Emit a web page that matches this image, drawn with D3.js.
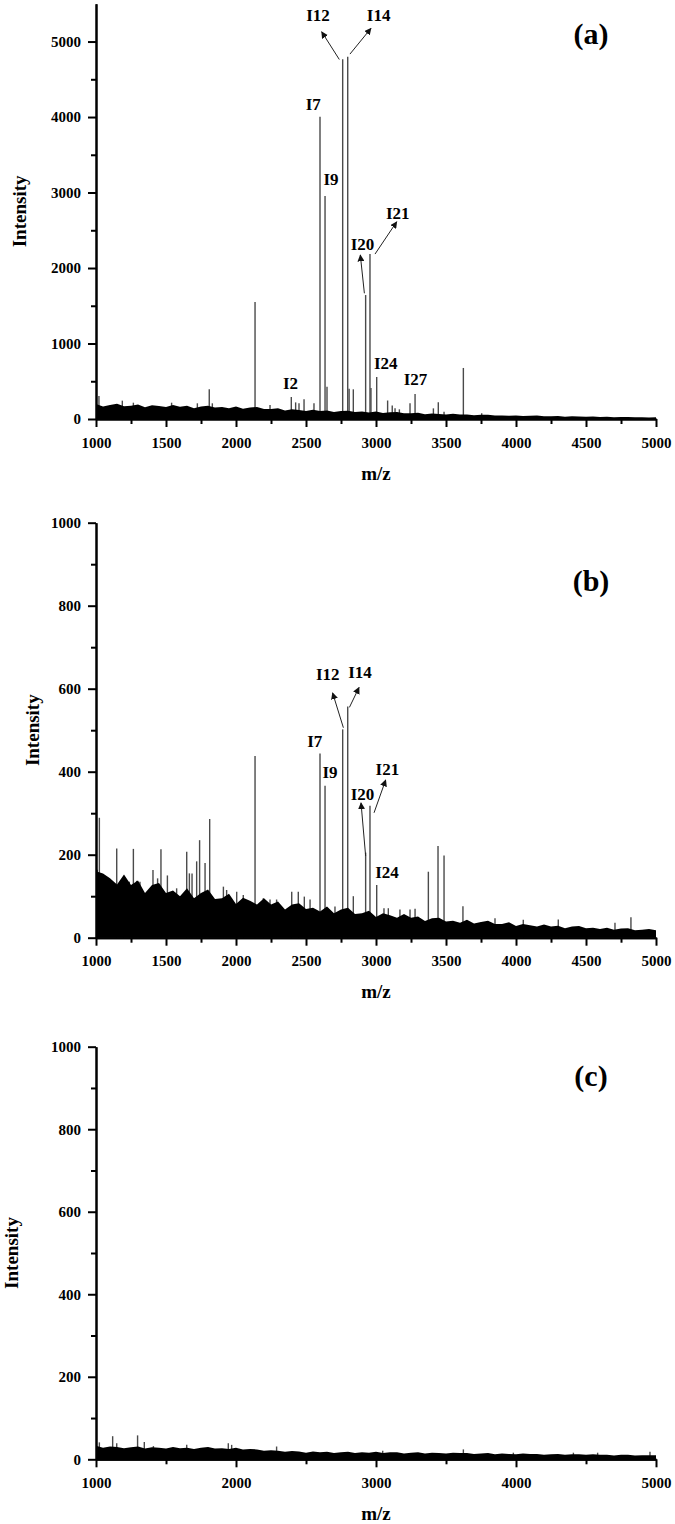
<!DOCTYPE html>
<html>
<head>
<meta charset="utf-8">
<script src="https://cdn.jsdelivr.net/npm/d3@7"></script>
<style>
    body { margin: 0; background: #fff; }
    svg { display: block; }
</style>
</head>
<body>
<svg id="chart" width="675" height="1524"></svg>
<script>
const FONT = "'Liberation Serif', 'Times New Roman', serif";

// m/z grid of the noise envelope (one reading every 50 m/z)
const noiseMz = d3.range(1000, 5001, 50);

// upper edge of the noise band
const noiseA = [200, 167, 187, 202, 168, 174, 192, 155, 182, 172,
                158, 185, 162, 175, 144, 167, 175, 152, 160, 144,
                167, 137, 151, 160, 131, 132, 143, 113, 129, 119,
                107, 124, 107, 114, 93, 106, 110, 94, 98, 86,
                99, 81, 89, 94, 76, 76, 82, 64, 74, 67,
                60, 68, 58, 61, 49, 56, 57, 48, 48, 42,
                48, 39, 42, 45, 37, 36, 39, 31, 36, 32,
                29, 33, 28, 30, 24, 27, 27, 23, 24, 21,
                24];
const noiseB = [160, 155, 143, 128, 152, 127, 138, 108, 127, 132,
                108, 114, 100, 119, 95, 108, 116, 93, 95, 106,
                81, 96, 89, 80, 95, 80, 87, 68, 80, 83,
                69, 72, 63, 75, 59, 68, 72, 57, 59, 65,
                50, 59, 54, 48, 57, 48, 51, 40, 47, 48,
                39, 41, 36, 43, 34, 38, 41, 33, 33, 37,
                28, 33, 30, 27, 32, 27, 29, 23, 27, 28,
                23, 24, 21, 24, 19, 22, 23, 18, 19, 21,
                18];
const noiseC = [33, 28, 31, 30, 27, 29, 31, 26, 29, 28,
                26, 30, 27, 28, 25, 28, 30, 26, 27, 25,
                28, 24, 25, 24, 21, 22, 21, 18, 20, 19,
                16, 19, 17, 18, 15, 17, 18, 15, 17, 16,
                18, 15, 17, 17, 14, 16, 17, 14, 16, 15,
                14, 16, 15, 15, 13, 14, 15, 12, 14, 13,
                12, 14, 13, 13, 11, 12, 13, 11, 12, 12,
                11, 12, 11, 11, 9, 11, 11, 9, 10, 10,
                10];

// individual peaks: m/z and intensity
const peaksAMz = [1021, 1188, 1267, 1540, 1724, 1809, 1831, 2136, 2243, 2395, 2426, 2450,
                  2486, 2557, 2600, 2636, 2650, 2762, 2798, 2808, 2838, 2926, 2957, 2964,
                  3005, 3083, 3116, 3136, 3167, 3243, 3279, 3410, 3445, 3486, 3624, 3755];
const peaksAInt = [305, 243, 216, 216, 208, 393, 208, 1550, 185, 290, 220, 208,
                   262, 208, 4004, 2954, 428, 4764, 4800, 400, 393, 1642, 2185, 410,
                   556, 245, 178, 141, 128, 208, 331, 141, 221, 97, 676, 75];

const peaksBMz = [1009, 1024, 1148, 1195, 1238, 1267, 1290, 1314, 1407, 1440, 1464, 1510,
                  1576, 1648, 1667, 1686, 1719, 1740, 1779, 1812, 1910, 1933, 2005, 2052,
                  2136, 2195, 2243, 2290, 2398, 2445, 2488, 2529, 2600, 2636, 2707, 2762,
                  2798, 2838, 2926, 2957, 3005, 3057, 3088, 3171, 3243, 3279, 3374, 3443,
                  3486, 3621, 3850, 4052, 4302, 4707, 4821];
const peaksBInt = [164, 289, 215, 135, 135, 214, 137, 135, 163, 143, 213, 150,
                   119, 207, 155, 155, 184, 235, 180, 286, 123, 115, 111, 103,
                   438, 95, 92, 92, 111, 111, 99, 92, 444, 366, 75, 502,
                   557, 100, 205, 318, 127, 71, 71, 68, 68, 70, 159, 221,
                   198, 76, 47, 43, 44, 36, 49];

const peaksCMz = [1024, 1119, 1148, 1297, 1345, 1410, 1648, 1945, 1969, 2290, 3048, 3624, 3981, 4410, 4583, 4957];
const peaksCInt = [41, 56, 39, 58, 42, 32, 35, 39, 35, 31, 21, 24, 16, 16, 16, 18];

// peak labels: text, m/z, intensity of the label centre
const labelsA = [["I12", 2586, 5351], ["I14", 3019, 5351], ["I7", 2552, 4172], ["I9", 2679, 3179],
                 ["I21", 3155, 2728], ["I20", 2904, 2307], ["I24", 3070, 738], ["I27", 3282, 523],
                 ["I2", 2389, 464]];
const labelsB = [["I12", 2655, 635], ["I14", 2886, 639], ["I7", 2563, 472], ["I9", 2671, 399],
                 ["I21", 3081, 405], ["I20", 2904, 344], ["I24", 3079, 158]];

// arrows: from (m/z, intensity) to (m/z, intensity)
const arrowsA = [[2738, 4762, 2612, 5130], [2814, 4834, 2964, 5175],
                 [2993, 2185, 3148, 2613], [2917, 1665, 2888, 2172]];
const arrowsB = [[2767, 506, 2690, 590], [2810, 555, 2879, 603],
                 [2986, 301, 3069, 380], [2926, 197, 2893, 325]];

const xMajorAB = [1000, 1500, 2000, 2500, 3000, 3500, 4000, 4500, 5000];
const xMinorAB = [1250, 1750, 2250, 2750, 3250, 3750, 4250, 4750];
const xMajorC = [1000, 2000, 3000, 4000, 5000];
const xMinorC = [1500, 2500, 3500, 4500];
const yMajorA = [0, 1000, 2000, 3000, 4000, 5000];
const yMinorA = [500, 1500, 2500, 3500, 4500];
const yMajorBC = [0, 200, 400, 600, 800, 1000];
const yMinorBC = [100, 300, 500, 700, 900];

const svg = d3.select("#chart");

svg.append("defs").append("marker")
    .attr("id", "arrow")
    .attr("viewBox", "0 0 10 10")
    .attr("refX", 9).attr("refY", 5)
    .attr("markerWidth", 7).attr("markerHeight", 7)
    .attr("orient", "auto")
    .append("path")
    .attr("d", "M0,0 L10,5 L0,10 z")
    .attr("fill", "#111");

function drawPanel(p) {
    const x = d3.scaleLinear().domain([1000, 5000]).range([96, 656]);
    const y = d3.scaleLinear().domain([0, p.yMax]).range([p.bottom, p.top]);
    const g = svg.append("g")
        .attr("font-family", FONT)
        .attr("font-weight", "bold");

    // peaks first, the noise band covers their feet
    const peaks = p.peaksMz.map((m, i) => [m, p.peaksInt[i]]);
    g.append("g")
        .selectAll("line")
        .data(peaks)
        .join("line")
        .attr("x1", d => x(d[0])).attr("x2", d => x(d[0]))
        .attr("y1", y(0)).attr("y2", d => y(d[1]))
        .attr("stroke", "#4a4a4a")
        .attr("stroke-width", 1.4);

    const area = d3.area()
        .x(d => x(d[0]))
        .y0(y(0))
        .y1(d => y(d[1]));
    g.append("path")
        .datum(noiseMz.map((m, i) => [m, p.noise[i]]))
        .attr("d", area)
        .attr("fill", "#000");

    // axes
    const styleAxis = sel => {
        sel.attr("font-family", FONT).attr("font-size", 15).attr("font-weight", "bold");
        sel.select(".domain").attr("stroke", "#000").attr("stroke-width", 2);
        sel.selectAll(".tick line").attr("stroke", "#000").attr("stroke-width", 2);
        sel.selectAll(".tick text").attr("fill", "#000");
    };

    g.append("g")
        .attr("transform", `translate(0,${y(0)})`)
        .call(d3.axisBottom(x).tickValues(p.xMinor).tickSize(5).tickSizeOuter(0).tickFormat(""))
        .call(styleAxis);
    g.append("g")
        .attr("transform", `translate(0,${y(0)})`)
        .call(d3.axisBottom(x).tickValues(p.xMajor).tickSize(8).tickSizeOuter(0).tickPadding(10).tickFormat(d3.format("d")))
        .call(styleAxis);

    g.append("g")
        .attr("transform", "translate(96,0)")
        .call(d3.axisLeft(y).tickValues(p.yMinor).tickSize(5).tickSizeOuter(0).tickFormat(""))
        .call(styleAxis);
    g.append("g")
        .attr("transform", "translate(96,0)")
        .call(d3.axisLeft(y).tickValues(p.yMajor).tickSize(8).tickSizeOuter(0).tickPadding(7).tickFormat(d3.format("d")))
        .call(styleAxis);

    // titles
    g.append("text")
        .attr("x", 376).attr("y", y(0) + 54)
        .attr("text-anchor", "middle").attr("dominant-baseline", "central")
        .attr("font-size", 19)
        .text("m/z");
    g.append("text")
        .attr("transform", `translate(${p.titleX},${(y(0) + y(p.yMax)) / 2}) rotate(-90)`)
        .attr("text-anchor", "middle").attr("dominant-baseline", "central")
        .attr("font-size", 19)
        .text("Intensity");
    g.append("text")
        .attr("x", 591).attr("y", p.tagY)
        .attr("text-anchor", "middle").attr("dominant-baseline", "central")
        .attr("font-size", 30)
        .text(p.tag);

    // peak labels and arrows
    g.append("g")
        .selectAll("text")
        .data(p.labels)
        .join("text")
        .attr("x", d => x(d[1])).attr("y", d => y(d[2]))
        .attr("text-anchor", "middle").attr("dominant-baseline", "central")
        .attr("font-size", 17)
        .text(d => d[0]);
    g.append("g")
        .selectAll("line")
        .data(p.arrows)
        .join("line")
        .attr("x1", d => x(d[0])).attr("y1", d => y(d[1]))
        .attr("x2", d => x(d[2])).attr("y2", d => y(d[3]))
        .attr("stroke", "#222")
        .attr("stroke-width", 1)
        .attr("marker-end", "url(#arrow)");
}

drawPanel({top: 3.8, bottom: 419, yMax: 5500, yMajor: yMajorA, yMinor: yMinorA,
           xMajor: xMajorAB, xMinor: xMinorAB, noise: noiseA,
           peaksMz: peaksAMz, peaksInt: peaksAInt, labels: labelsA, arrows: arrowsA,
           titleX: 19, tag: "(a)", tagY: 33});
drawPanel({top: 522.7, bottom: 937.7, yMax: 1000, yMajor: yMajorBC, yMinor: yMinorBC,
           xMajor: xMajorAB, xMinor: xMinorAB, noise: noiseB,
           peaksMz: peaksBMz, peaksInt: peaksBInt, labels: labelsB, arrows: arrowsB,
           titleX: 32, tag: "(b)", tagY: 580});
drawPanel({top: 1046.7, bottom: 1459.3, yMax: 1000, yMajor: yMajorBC, yMinor: yMinorBC,
           xMajor: xMajorC, xMinor: xMinorC, noise: noiseC,
           peaksMz: peaksCMz, peaksInt: peaksCInt, labels: [], arrows: [],
           titleX: 11, tag: "(c)", tagY: 1075});
</script>
</body>
</html>
